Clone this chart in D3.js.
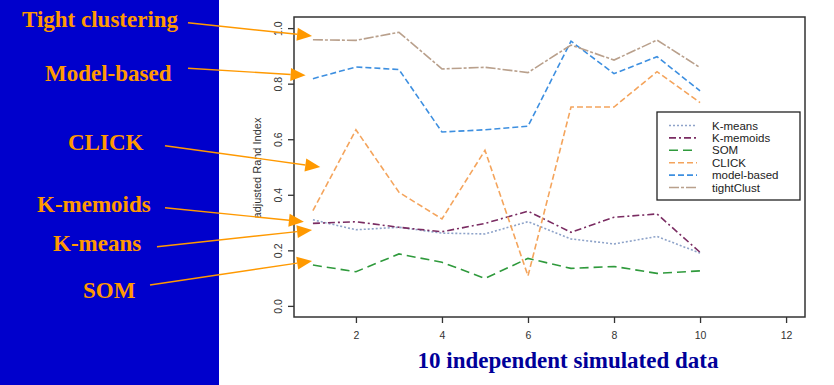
<!DOCTYPE html>
<html>
<head>
<meta charset="utf-8">
<script src="https://cdn.jsdelivr.net/npm/d3@7"></script>
<style>
  html, body { margin: 0; padding: 0; background: #fff; }
  svg { display: block; }
</style>
</head>
<body>
<svg id="chart" width="834" height="385"></svg>
<script>
// data sets 1..10
const datasets = [1, 2, 3, 4, 5, 6, 7, 8, 9, 10]

const kMeans     = [0.31, 0.274, 0.283, 0.262, 0.259, 0.303, 0.241, 0.223, 0.25, 0.19]
const kMemoids   = [0.297, 0.303, 0.283, 0.267, 0.297, 0.341, 0.265, 0.319, 0.331, 0.193]
const som        = [0.147, 0.123, 0.187, 0.157, 0.099, 0.171, 0.135, 0.142, 0.117, 0.126]
const click      = [0.343, 0.634, 0.409, 0.313, 0.56, 0.108, 0.716, 0.716, 0.843, 0.732]
const modelBased = [0.818, 0.86, 0.851, 0.626, 0.634, 0.647, 0.953, 0.836, 0.897, 0.774]
const tightClust = [0.958, 0.956, 0.985, 0.853, 0.859, 0.84, 0.939, 0.885, 0.957, 0.858]

const seriesNames = ['K-means', 'K-memoids', 'SOM', 'CLICK', 'model-based', 'tightClust']
const seriesValues = [kMeans, kMemoids, som, click, modelBased, tightClust]

const xTicks = [2, 4, 6, 8, 10, 12]
const yTicks = [0, 0.2, 0.4, 0.6, 0.8, 1.0]

// side labels pointing at the lines (target in data units)
const noteLabels = ['Tight clustering', 'Model-based', 'CLICK', 'K-memoids', 'K-means', 'SOM']
const noteTargets = [[0.98, 0.972], [0.83, 0.83], [1.17, 0.5], [0.79, 0.303], [0.98, 0.273], [0.98, 0.162]]

const styles = [
  { color: '#8ea3c9', dash: '2,2' },
  { color: '#7a2c62', dash: '7,3,2,3' },
  { color: '#2f9a3c', dash: '9,5' },
  { color: '#f4a45c', dash: '6,3,6,3' },
  { color: '#3d8fe0', dash: '6,3' },
  { color: '#b9a08c', dash: '10,2,3,2' }
]

const svg = d3.select('#chart')
const W = 834, H = 385
const box = { left: 294, right: 805, top: 17, bottom: 317 }

// left blue panel
svg.append('rect').attr('x', 0).attr('y', 0).attr('width', 219).attr('height', H).attr('fill', '#0000cc')

const x = d3.scaleLinear().domain([0.56, 12.44]).range([box.left, box.right])
const y = d3.scaleLinear().domain([-0.04, 1.04]).range([box.bottom, box.top])

const axisColor = '#333'

// x axis
const gx = svg.append('g')
  .attr('transform', `translate(0,${box.bottom})`)
  .call(d3.axisBottom(x).tickValues(xTicks).tickSize(6).tickPadding(9).tickFormat(d3.format('d')))
gx.select('.domain').remove()
gx.selectAll('line').attr('stroke', axisColor).attr('stroke-width', 1.3)
gx.selectAll('text').attr('fill', axisColor).attr('font-family', 'Liberation Sans, Arial, sans-serif').attr('font-size', 10.5)

// y axis
const gy = svg.append('g')
  .attr('transform', `translate(${box.left},0)`)
  .call(d3.axisLeft(y).tickValues(yTicks).tickSize(6).tickFormat(d3.format('.1f')))
gy.select('.domain').remove()
gy.selectAll('line').attr('stroke', axisColor).attr('stroke-width', 1.3)
gy.selectAll('text')
  .attr('fill', axisColor)
  .attr('font-family', 'Liberation Sans, Arial, sans-serif')
  .attr('font-size', 10.5)
  .attr('text-anchor', 'middle')
  .attr('dy', null)
  .attr('x', null)
  .attr('transform', 'translate(-16,0) rotate(-90)')
  .attr('dominant-baseline', 'central')

svg.append('text')
  .attr('transform', `translate(257,${(box.top + box.bottom) / 2 + 1}) rotate(-90)`)
  .attr('text-anchor', 'middle')
  .attr('dominant-baseline', 'central')
  .attr('font-family', 'Liberation Sans, Arial, sans-serif')
  .attr('font-size', 11)
  .attr('fill', '#333')
  .text('adjusted Rand Index')

// plot box
svg.append('rect')
  .attr('x', box.left).attr('y', box.top)
  .attr('width', box.right - box.left).attr('height', box.bottom - box.top)
  .attr('fill', 'none').attr('stroke', '#333').attr('stroke-width', 1.5)

// series lines
const line = d3.line().x((d, i) => x(datasets[i])).y(d => y(d))
seriesValues.forEach((vals, k) => {
  svg.append('path')
    .datum(vals)
    .attr('d', line)
    .attr('fill', 'none')
    .attr('stroke', styles[k].color)
    .attr('stroke-width', 1.6)
    .attr('stroke-dasharray', styles[k].dash)
})

// legend
const lg = { x: 657, y: 112, w: 143, h: 88, row: 12.4 }
svg.append('rect')
  .attr('x', lg.x).attr('y', lg.y).attr('width', lg.w).attr('height', lg.h)
  .attr('fill', '#fff').attr('stroke', '#222').attr('stroke-width', 1.3)
seriesNames.forEach((name, k) => {
  const yy = lg.y + 13.5 + k * lg.row
  svg.append('line')
    .attr('x1', lg.x + 12).attr('x2', lg.x + 40).attr('y1', yy).attr('y2', yy)
    .attr('stroke', styles[k].color).attr('stroke-width', 1.6)
    .attr('stroke-dasharray', styles[k].dash)
  svg.append('text')
    .attr('x', lg.x + 55).attr('y', yy)
    .attr('dominant-baseline', 'central')
    .attr('font-family', 'Liberation Sans, Arial, sans-serif')
    .attr('font-size', 11.5)
    .attr('fill', '#222')
    .text(name)
})

// x title
svg.append('text')
  .attr('x', 568).attr('y', 368)
  .attr('text-anchor', 'middle')
  .attr('font-family', 'Liberation Serif, Times New Roman, serif')
  .attr('font-weight', 'bold')
  .attr('font-size', 23)
  .attr('fill', '#000099')
  .text('10 independent simulated data')

// annotation labels + arrows
const labelPos = [[22, 27], [45, 81], [68, 150], [37, 212], [53, 251], [83, 298]]
const arrowStart = [[188, 22.7], [188, 68.3], [165, 145.7], [165, 207.7], [157, 246.7], [150, 285]]
const orange = '#ff9900'

noteLabels.forEach((lab, k) => {
  svg.append('text')
    .attr('x', labelPos[k][0]).attr('y', labelPos[k][1])
    .attr('font-family', 'Liberation Serif, Times New Roman, serif')
    .attr('font-weight', 'bold')
    .attr('font-size', 23)
    .attr('fill', orange)
    .text(lab)

  const [sx, sy] = arrowStart[k]
  const tx = x(noteTargets[k][0]), ty = y(noteTargets[k][1])
  const dx = tx - sx, dy = ty - sy
  const len = Math.hypot(dx, dy)
  const ux = dx / len, uy = dy / len
  const headL = 15, headW = 6.5
  const bx = tx - ux * headL, by = ty - uy * headL
  svg.append('line')
    .attr('x1', sx).attr('y1', sy).attr('x2', bx).attr('y2', by)
    .attr('stroke', orange).attr('stroke-width', 1.4)
  svg.append('path')
    .attr('d', `M${tx},${ty} L${bx - uy * headW},${by + ux * headW} L${bx + uy * headW},${by - ux * headW} Z`)
    .attr('fill', orange)
})
</script>
</body>
</html>
